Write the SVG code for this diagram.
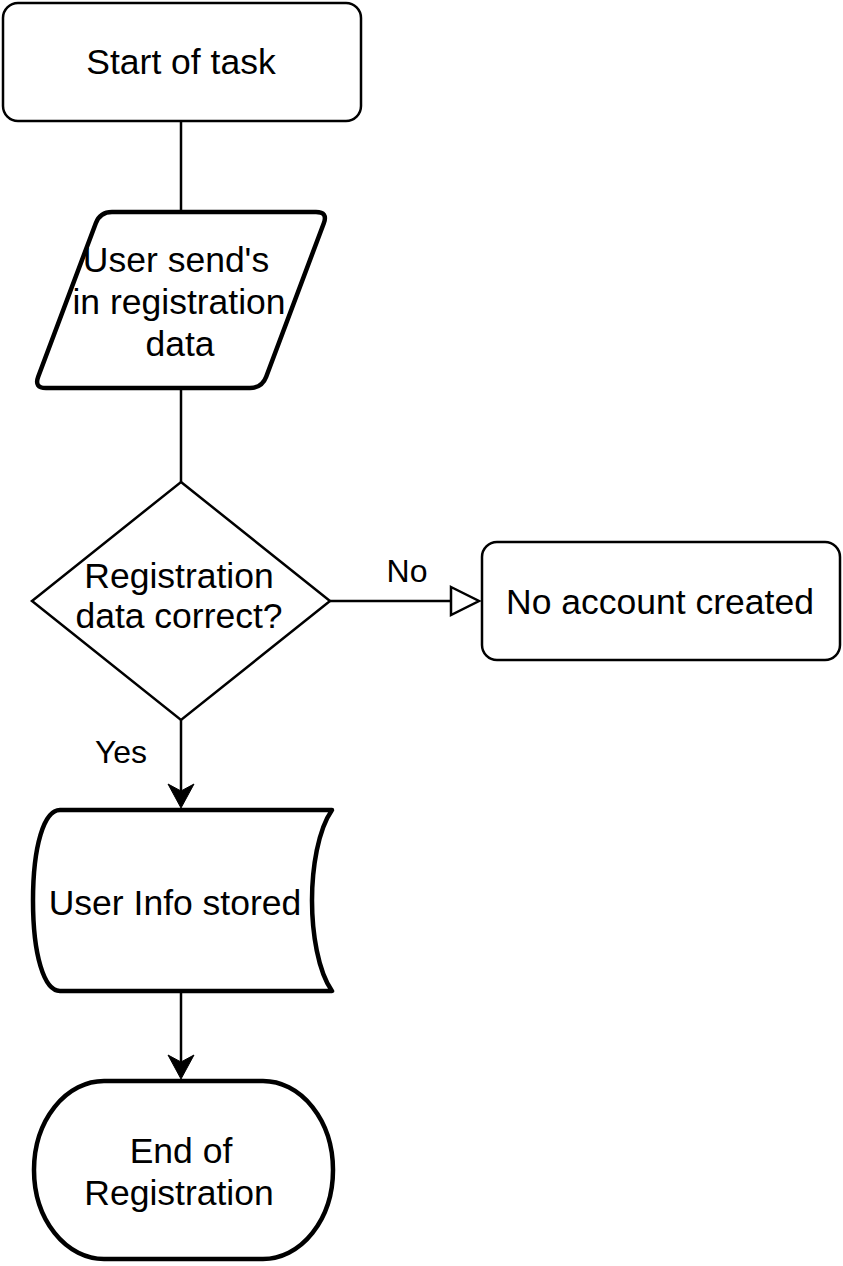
<svg xmlns="http://www.w3.org/2000/svg" width="843" height="1266" viewBox="0 0 843 1266">
  <style>
    .thin { fill: #ffffff; stroke: #000000; stroke-width: 2.5; }
    .thick { fill: #ffffff; stroke: #000000; stroke-width: 4.5; stroke-linejoin: round; }
    .edge { fill: none; stroke: #000000; stroke-width: 2.5; }
    .lbl { font-family: "Liberation Sans", Arial, sans-serif; font-size: 35.5px; fill: #000000; text-anchor: middle; }
    .elbl { font-family: "Liberation Sans", Arial, sans-serif; font-size: 32px; fill: #000000; text-anchor: middle; }
  </style>
  <defs>
    <marker id="filled" markerUnits="userSpaceOnUse" viewBox="0 0 26 28" markerWidth="26" markerHeight="28" refX="16" refY="14" orient="auto" overflow="visible">
      <path d="M0,1 L24,14 L0,27 L7,14 Z" fill="#000000" stroke="#000000" stroke-width="1" stroke-linejoin="miter"/>
    </marker>
    <marker id="open" markerUnits="userSpaceOnUse" viewBox="0 0 32 30" markerWidth="32" markerHeight="30" refX="1" refY="15" orient="auto" overflow="visible">
      <path d="M1,1 L29,15 L1,29 Z" fill="#ffffff" stroke="#000000" stroke-width="2.5"/>
    </marker>
  </defs>
  <rect width="843" height="1266" fill="#ffffff"/>

  <g id="connectors">
    <path class="edge" d="M181,121 L181,212"/>
    <path class="edge" d="M181,388 L181,482"/>
    <path class="edge" d="M181,720 L181,800" marker-end="url(#filled)"/>
    <path class="edge" d="M181,991 L181,1071" marker-end="url(#filled)"/>
    <path class="edge" d="M330,601 L451,601" marker-end="url(#open)"/>
    <text class="elbl" x="407" y="582">No</text>
    <text class="elbl" x="121" y="763">Yes</text>
  </g>

  <g id="start">
    <rect class="thin" x="3" y="3" width="358" height="118" rx="15" ry="15"/>
    <text class="lbl" x="181" y="74">Start of task</text>
  </g>

  <g id="input">
    <path class="thick" d="M112,212 L316,212 Q328,212 323.8,223.2 L266.2,376.8 Q262,388 250,388 L46,388 Q34,388 38.2,376.8 L95.8,223.2 Q100,212 112,212 Z"/>
    <text class="lbl" x="176" y="272">User send's</text>
    <text class="lbl" x="179" y="314">in registration</text>
    <text class="lbl" x="180" y="356">data</text>
  </g>

  <g id="decision">
    <path class="thin" d="M181,482 L330,601 L181,720 L32,601 Z"/>
    <text class="lbl" x="179" y="588">Registration</text>
    <text class="lbl" x="179" y="628">data correct?</text>
  </g>

  <g id="no-account">
    <rect class="thin" x="482" y="542" width="358" height="118" rx="15" ry="15"/>
    <text class="lbl" x="660" y="614">No account created</text>
  </g>

  <g id="stored">
    <path class="thick" d="M60,810 L332,810 C318,830 312,868 312,900.5 C312,933 318,971 332,991 L60,991 C44,991 33,955 33,900.5 C33,846 44,810 60,810 Z"/>
    <text class="lbl" x="175" y="915">User Info stored</text>
  </g>

  <g id="end">
    <path class="thick" d="M104,1081 L263,1081 A70,89 0 0 1 263,1259 L104,1259 A70,89 0 0 1 104,1081 Z"/>
    <text class="lbl" x="181" y="1163">End of</text>
    <text class="lbl" x="179" y="1205">Registration</text>
  </g>
</svg>
